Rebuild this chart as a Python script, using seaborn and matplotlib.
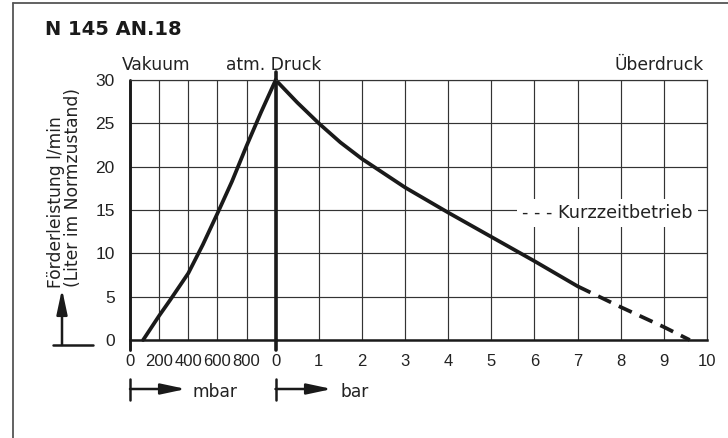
import matplotlib
matplotlib.use("Agg")
import matplotlib.pyplot as plt
from matplotlib.lines import Line2D
from matplotlib.patches import FancyArrowPatch
import seaborn as sns

vac_mbar = [90, 200, 275, 400, 500, 600, 700, 800, 900, 1000]
vac_flow = [0, 2.8, 4.6, 7.7, 11.0, 14.6, 18.3, 22.4, 26.3, 30.0]
over_bar = [0, 0.5, 1, 1.5, 2, 3, 4, 5, 6, 7]
over_flow = [30, 27.4, 25.0, 22.8, 20.9, 17.6, 14.7, 11.9, 9.1, 6.2]
short_bar = [7, 8, 9, 9.6]
short_flow = [6.2, 3.8, 1.5, 0]

vac_ticks = [0, 200, 400, 600, 800]
bar_ticks = [0, 1, 2, 3, 4, 5, 6, 7, 8, 9, 10]
flow_ticks = [0, 5, 10, 15, 20, 25, 30]

sns.set_style("white")
plt.rcParams['font.family'] = ['DejaVu Sans']
ink = '#1a1a1a'
grid_c = '#333333'
num_font = 'Liberation Sans'

W, H = 728, 438
fig = plt.figure(figsize=(7.28, 4.38), dpi=100)


def fx(px):
    return px / W


def fy(py):
    return 1 - py / H


x0, xm, x1 = 130, 275.7, 707
ytop, ybot = 80, 340
ax_v = fig.add_axes([fx(x0), fy(ybot), (xm - x0) / W, (ybot - ytop) / H])
ax_b = fig.add_axes([fx(xm), fy(ybot), (x1 - xm) / W, (ybot - ytop) / H])

for ax in (ax_v, ax_b):
    ax.patch.set_visible(False)
    ax.grid(True, color=grid_c, lw=0.85)
    ax.set_ylim(0, 30)
    ax.spines['bottom'].set_linewidth(1.8)
    ax.spines['bottom'].set_color(ink)
    ax.spines['top'].set_linewidth(0.85)
    ax.spines['top'].set_color(grid_c)
    ax.spines['left'].set_visible(False)
    ax.tick_params(axis='x', direction='out', length=6, width=0.85, color=ink,
                   pad=4, labelcolor='#222')

ax_v.spines['right'].set_visible(False)
ax_b.spines['right'].set_linewidth(0.85)
ax_b.spines['right'].set_color(grid_c)

ax_v.set_xlim(0, 1000)
ax_b.set_xlim(0, 10)
ax_v.set_xticks(vac_ticks, labels=[str(t) for t in vac_ticks],
                fontfamily=num_font, fontsize=12)
ax_b.set_xticks(bar_ticks, labels=[str(t) for t in bar_ticks],
                fontfamily=num_font, fontsize=12)
ax_v.set_yticks(flow_ticks, labels=[str(t) for t in flow_ticks],
                fontfamily=num_font, fontsize=12.5)
ax_v.tick_params(axis='y', direction='out', length=6, width=0.85, color=ink,
                 pad=5, labelcolor='#222')
ax_b.set_yticks(flow_ticks)
ax_b.tick_params(axis='y', left=False, labelleft=False)

# thick zero lines
ax_v.axvline(0, ymin=-0.04, ymax=1, lw=2.1, color=ink, clip_on=False)
ax_b.axvline(0, ymin=-0.04, ymax=1.03, lw=2.6, color=ink, clip_on=False)

sns.lineplot(x=vac_mbar, y=vac_flow, ax=ax_v, color=ink, lw=2.7, clip_on=False)
sns.lineplot(x=over_bar, y=over_flow, ax=ax_b, color=ink, lw=2.7, clip_on=False)
sns.lineplot(x=short_bar, y=short_flow, ax=ax_b, color=ink, lw=2.7,
             linestyle=(0, (3.8, 2.3)), clip_on=False)
ax_v.set_xlabel('')
ax_v.set_ylabel('')
ax_b.set_xlabel('')
ax_b.set_ylabel('')

txt = 12.3
fig.text(fx(45), fy(35), "N 145 AN.18", fontweight='bold', fontsize=14,
         va='baseline', color=ink)
fig.text(fx(122), fy(70), "Vakuum", fontsize=txt, va='baseline', color='#222')
fig.text(fx(226), fy(70), "atm. Druck", fontsize=txt, va='baseline', color='#222')
fig.text(fx(704), fy(70), "Überdruck", fontsize=txt, va='baseline', ha='right',
         color='#222')

fig.text(fx(61), fy(288), "Förderleistung l/min", fontsize=txt, rotation=90,
         rotation_mode='anchor', ha='left', va='baseline', color='#222')
fig.text(fx(78), fy(287), "(Liter im Normzustand)", fontsize=txt, rotation=90,
         rotation_mode='anchor', ha='left', va='baseline', color='#222')

fig.text(fx(522), fy(213), "- - - Kurzzeitbetrieb", fontsize=12.8, va='center',
         color='#222',
         bbox=dict(boxstyle='square,pad=0.3', fc='white', ec='none'))

# little arrows
def arrow(xa, ya, xb, yb):
    fig.add_artist(FancyArrowPatch(posA=(fx(xa), fy(ya)), posB=(fx(xb), fy(yb)),
                                   transform=fig.transFigure,
                                   arrowstyle='-|>,head_length=15,head_width=3.2',
                                   mutation_scale=1, lw=1.8, color=ink,
                                   shrinkA=0, shrinkB=0))


def seg(xa, ya, xb, yb, lw=1.8, c=ink):
    fig.add_artist(Line2D([fx(xa), fx(xb)], [fy(ya), fy(yb)],
                          transform=fig.transFigure, lw=lw, color=c))


seg(53, 345, 93, 345)
arrow(62, 345, 62, 289)

seg(130, 379, 130, 400)
arrow(130, 389, 186, 389)
fig.text(fx(193), fy(397), "mbar", fontsize=txt, va='baseline', color='#222')
seg(275.5, 379, 275.5, 400)
arrow(275.5, 389, 332, 389)
fig.text(fx(340), fy(397), "bar", fontsize=txt, va='baseline', color='#222')

# page frame
seg(13, 3, 13, 438, lw=1.3, c='#555555')
seg(13, 3, 728, 3, lw=1.3, c='#555555')

fig.savefig('out.png', dpi=100)
